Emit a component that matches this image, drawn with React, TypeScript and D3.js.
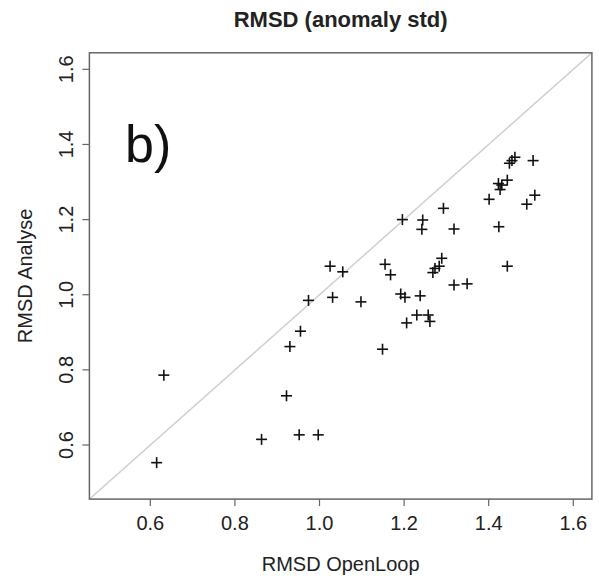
import * as d3 from 'd3'

// RMSD OpenLoop (x) vs RMSD Analyse (y)
const openLoop = [
  0.615, 0.632, 0.863, 0.952, 0.997, 0.922, 0.930, 0.955, 0.974, 1.025,
  1.055, 1.031, 1.098, 1.149, 1.192, 1.202, 1.238, 1.230, 1.257, 1.261,
  1.206, 1.155, 1.168, 1.196, 1.244, 1.242, 1.293, 1.318, 1.289, 1.283,
  1.273, 1.268, 1.318, 1.349, 1.444, 1.424, 1.401, 1.490, 1.509, 1.427,
  1.431, 1.444, 1.423, 1.449, 1.462, 1.505, 1.455,
]
const analyse = [
  0.553, 0.786, 0.615, 0.627, 0.627, 0.731, 0.862, 0.903, 0.985, 1.076,
  1.061, 0.993, 0.981, 0.855, 1.002, 0.993, 0.997, 0.946, 0.946, 0.929,
  0.925, 1.081, 1.053, 1.200, 1.199, 1.174, 1.230, 1.175, 1.097, 1.076,
  1.070, 1.059, 1.026, 1.029, 1.076, 1.181, 1.254, 1.241, 1.265, 1.280,
  1.292, 1.305, 1.296, 1.350, 1.366, 1.357, 1.357,
]
const ticks = [0.6, 0.8, 1.0, 1.2, 1.4, 1.6]
const lim = [0.5, 1.6]

const W = 599
const H = 584
const FONT = "'Liberation Sans', Arial, Helvetica, sans-serif"

export default function App() {
  // R style 4% extension of the limits
  const pad = (lim[1] - lim[0]) * 0.04
  const domain = [lim[0] - pad, lim[1] + pad]
  const left = 89.4
  const right = 591.9
  const top = 52.8
  const bottom = 499.1

  const x = d3.scaleLinear().domain(domain).range([left, right])
  const y = d3.scaleLinear().domain(domain).range([bottom, top])
  const fmt = d3.format('.1f')
  const cross = 5.5

  return (
    <svg
      width={W}
      height={H}
      style={{ position: 'absolute', left: 0, top: 0, background: '#fff' }}
      fontFamily={FONT}
    >
      <defs>
        <clipPath id="plot">
          <rect x={left} y={top} width={right - left} height={bottom - top} />
        </clipPath>
      </defs>

      <text x={(left + right) / 2} y={27} textAnchor="middle" fontSize={22} fontWeight="bold" fill="#222">
        RMSD (anomaly std)
      </text>

      {/* 1:1 line */}
      <line
        x1={x(domain[0])}
        y1={y(domain[0])}
        x2={x(domain[1])}
        y2={y(domain[1])}
        stroke="#cfcfcf"
        strokeWidth={1.5}
        clipPath="url(#plot)"
      />

      {openLoop.map((v, i) => (
        <g key={i} transform={`translate(${x(v)},${y(analyse[i])})`} stroke="#111" strokeWidth={1.6}>
          <line x1={-cross} x2={cross} y1={0} y2={0} />
          <line x1={0} x2={0} y1={-cross} y2={cross} />
        </g>
      ))}

      <rect x={left} y={top} width={right - left} height={bottom - top} fill="none" stroke="#666" strokeWidth={1.5} />

      {/* x axis */}
      {ticks.map(t => (
        <g key={'x' + t}>
          <line x1={x(t)} x2={x(t)} y1={bottom} y2={bottom + 7} stroke="#666" strokeWidth={1.2} />
          <text x={x(t)} y={530} textAnchor="middle" fontSize={20} fill="#222">
            {fmt(t)}
          </text>
        </g>
      ))}
      <text x={(left + right) / 2} y={571} textAnchor="middle" fontSize={20} fill="#222">
        RMSD OpenLoop
      </text>

      {/* y axis */}
      {ticks.map(t => (
        <g key={'y' + t}>
          <line x1={left - 7} x2={left} y1={y(t)} y2={y(t)} stroke="#666" strokeWidth={1.2} />
          <text
            transform={`translate(73,${y(t)}) rotate(-90)`}
            textAnchor="middle"
            fontSize={20}
            fill="#222"
          >
            {fmt(t)}
          </text>
        </g>
      ))}
      <text
        transform={`translate(32,${(top + bottom) / 2}) rotate(-90)`}
        textAnchor="middle"
        fontSize={20}
        fill="#222"
      >
        RMSD Analyse
      </text>

      <text x={125} y={162} fontSize={52} fill="#111">
        b)
      </text>
    </svg>
  )
}
